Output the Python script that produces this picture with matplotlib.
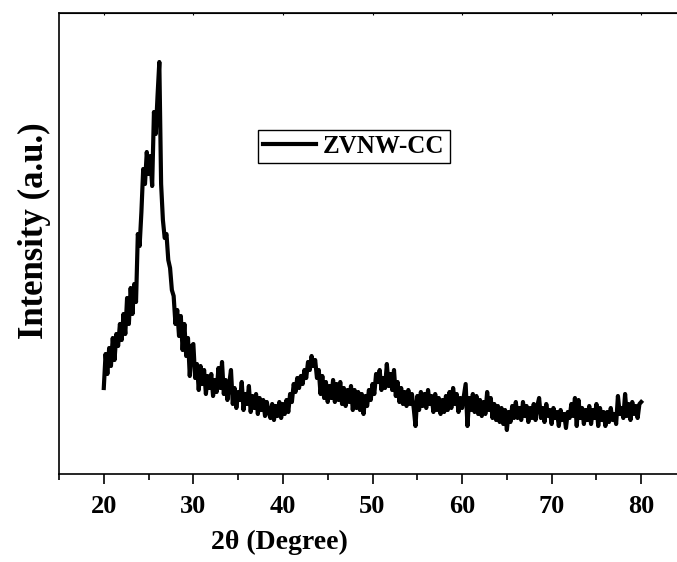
import numpy as np
import matplotlib
matplotlib.use('Agg')
import matplotlib.pyplot as plt
from matplotlib.ticker import MultipleLocator

# XRD pattern of ZVNW-CC (2theta step 0.2 deg, 20-80)
intensity = [
    86, 120, 100, 126, 108, 136, 114, 140, 128, 150,     # 20.0 - 21.8
    134, 160, 140, 176, 150, 186, 160, 190, 172, 240,    # 22.0 - 23.8
    228, 262, 305, 290, 322, 300, 318, 288, 362, 340,    # 24.0 - 25.8
    378, 412, 290, 254, 236, 240, 214, 206, 184, 178,    # 26.0 - 27.8
    150, 164, 138, 158, 124, 150, 118, 136, 98, 128,     # 28.0 - 29.8
    130, 96, 110, 84, 108, 90, 104, 80, 98, 86,          # 30.0 - 31.8
    100, 78, 94, 82, 106, 86, 112, 80, 94, 74,           # 32.0 - 33.8
    90, 104, 70, 86, 66, 82, 74, 92, 64, 80,             # 34.0 - 35.8
    70, 88, 62, 78, 66, 80, 60, 76, 64, 74,              # 36.0 - 37.8
    58, 72, 62, 56, 70, 54, 68, 58, 72, 56,              # 38.0 - 39.8
    70, 60, 74, 62, 80, 72, 90, 82, 96, 86,              # 40.0 - 41.8
    98, 90, 104, 96, 112, 104, 118, 108, 114, 96,        # 42.0 - 43.8
    104, 80, 98, 76, 92, 72, 88, 76, 94, 72,             # 44.0 - 45.8
    90, 74, 92, 70, 86, 68, 84, 72, 88, 64,              # 46.0 - 47.8
    84, 66, 82, 64, 80, 60, 78, 68, 84, 74,              # 48.0 - 49.8
    90, 80, 100, 92, 104, 84, 96, 86, 110, 88,           # 50.0 - 51.8
    100, 84, 104, 78, 92, 72, 86, 70, 82, 68,            # 52.0 - 53.8
    84, 70, 80, 66, 48, 78, 64, 82, 68, 80,              # 54.0 - 55.8
    66, 84, 70, 78, 62, 80, 64, 76, 60, 74,              # 56.0 - 57.8
    62, 78, 64, 82, 66, 86, 70, 80, 62, 76,              # 58.0 - 59.8
    66, 78, 90, 48, 76, 64, 80, 62, 78, 60,              # 60.0 - 61.8
    74, 58, 72, 60, 82, 64, 76, 56, 70, 54,              # 62.0 - 63.8
    68, 52, 66, 50, 64, 44, 62, 52, 68, 56,              # 64.0 - 65.8
    72, 56, 66, 54, 72, 58, 68, 52, 66, 56,              # 66.0 - 67.8
    70, 54, 68, 76, 56, 66, 52, 70, 58, 64,              # 68.0 - 69.8
    50, 66, 56, 62, 48, 64, 54, 60, 46, 62,              # 70.0 - 71.8
    56, 70, 58, 76, 48, 74, 56, 66, 50, 64,              # 72.0 - 73.8
    54, 68, 50, 64, 56, 70, 48, 66, 54, 62,              # 74.0 - 75.8
    48, 62, 52, 66, 54, 60, 50, 78, 60, 66,              # 76.0 - 77.8
    56, 80, 58, 70, 54, 72, 60, 68, 56, 70,              # 78.0 - 79.8
    72,                                                  # 80.0
]
two_theta = np.linspace(20, 80, len(intensity))
series_label = 'ZVNW-CC'

plt.rcParams['font.family'] = 'Liberation Serif'
plt.rcParams['font.weight'] = 'bold'

fig = plt.figure(figsize=(6.77, 5.62), dpi=100)
ax = fig.add_axes([59/677, 1 - 474/562, 627/677, 461/562])

ax.plot(two_theta, intensity, color='black', linewidth=3.0, label=series_label)

ax.set_xlim(15, 85)
ax.set_ylim(0, 461)
ax.xaxis.set_major_locator(MultipleLocator(10))
ax.xaxis.set_minor_locator(MultipleLocator(5))
ax.set_yticks([])

for s in ax.spines.values():
    s.set_linewidth(1.2)

# outward ticks at the bottom, tiny inward ones on top
ax.tick_params(axis='x', which='major', direction='out', length=7, width=1.2,
               labelsize=19, pad=8)
ax.tick_params(axis='x', which='minor', direction='out', length=4, width=1.2)
ax.secondary_xaxis('top').tick_params(axis='x', which='both', direction='in',
                                       length=1.5, width=0.8, labeltop=False)

ax.set_xlabel('2θ (Degree)', fontsize=20, fontweight='bold')
ax.xaxis.set_label_coords(0.352, -0.122)
ax.set_ylabel('Intensity (a.u.)', fontsize=25, fontweight='bold')
ax.yaxis.set_label_coords(-0.012, 0.527)

leg = ax.legend(loc='upper left', bbox_to_anchor=(258/677, 1 - 130/562),
                bbox_transform=fig.transFigure, fancybox=False, framealpha=1,
                edgecolor='black', fontsize=18, handlelength=2.1,
                handletextpad=0.3, borderpad=0.2, borderaxespad=0)
leg.get_frame().set_linewidth(1.0)

plt.savefig('out.png', dpi=100)
